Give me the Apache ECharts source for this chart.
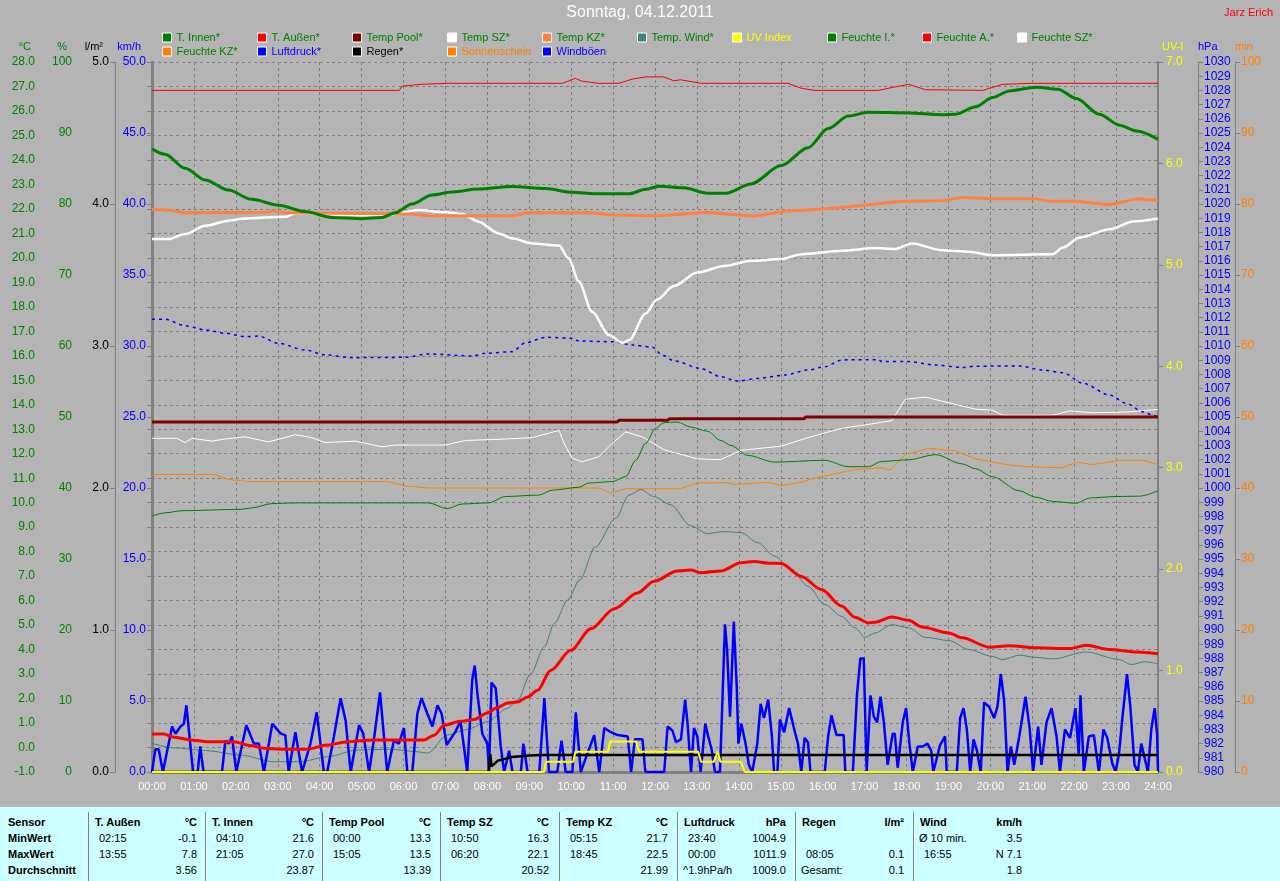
<!DOCTYPE html>
<html><head><meta charset="utf-8">
<script src="https://cdn.jsdelivr.net/npm/echarts/dist/echarts.min.js"></script>
<style>
html,body{margin:0;padding:0;background:#b4b4b4;overflow:hidden;}
#chart{position:absolute;left:0;top:0;width:1280px;height:881px;}
#table{position:absolute;left:0;top:807px;width:1280px;height:74px;background:#ccffff;font-family:'Liberation Sans',Arial,sans-serif;font-size:11px;color:#000;}
.t{position:absolute;white-space:nowrap;line-height:14px;}
.b{font-weight:bold;}
.sep{position:absolute;top:5px;bottom:0;width:1px;background:#808080;border-right:1px solid #e8ffff;}
</style></head>
<body>
<div id="chart"></div>
<div id="table"></div>
<script>
// ---------- data ----------
const hourLabels = ['00:00','01:00','02:00','03:00','04:00','05:00','06:00','07:00','08:00','09:00','10:00','11:00','12:00','13:00','14:00','15:00','16:00','17:00','18:00','19:00','20:00','21:00','22:00','23:00','24:00'];
const axisNames = ['°C','%','l/m²','km/h','UV-I','hPa','min'];

const tInnen = [[0,24.45],[0.31,24.23],[0.79,23.66],[1.27,23.18],[1.82,22.77],[2.38,22.39],[3.02,22.15],[3.65,21.89],[4.29,21.65],[5.01,21.6],[5.49,21.65],[5.8,21.84],[6.2,22.2],[6.68,22.57],[7.16,22.69],[7.79,22.81],[8.59,22.91],[9.39,22.83],[10.02,22.68],[10.58,22.62],[11.38,22.62],[11.78,22.8],[12.1,22.93],[12.69,22.86],[13.25,22.64],[13.69,22.64],[14.29,23.02],[15.01,23.77],[15.65,24.5],[16.13,25.28],[16.61,25.79],[17.09,25.95],[18.05,25.92],[18.85,25.85],[19.17,25.87],[19.65,26.17],[20.05,26.55],[20.45,26.82],[21.1,26.97],[21.61,26.89],[22.05,26.51],[22.6,25.87],[23.08,25.42],[23.49,25.18],[24,24.84]];

const tAussen = [[0,0.55],[0.28,0.55],[0.52,0.42],[0.92,0.31],[1.31,0.24],[1.95,0.24],[2.35,0.08],[2.67,-0.03],[3.07,-0.07],[3.7,-0.07],[4.18,0.1],[4.66,0.24],[5.29,0.31],[6.49,0.31],[6.73,0.5],[6.97,0.91],[7.36,1.07],[7.68,1.14],[8.0,1.41],[8.24,1.63],[8.48,1.82],[8.72,1.86],[8.96,2.06],[9.2,2.34],[9.51,3.15],[9.99,3.97],[10.47,4.85],[11.03,5.67],[11.58,6.31],[11.98,6.79],[12.53,7.21],[12.85,7.25],[13.09,7.14],[13.57,7.21],[14.05,7.55],[14.37,7.6],[14.69,7.53],[15.01,7.52],[15.49,6.99],[15.97,6.45],[16.45,5.78],[16.77,5.32],[17.09,5.09],[17.25,5.12],[17.65,5.33],[18.05,5.2],[18.37,4.92],[19.01,4.68],[19.33,4.48],[19.97,4.1],[20.45,4.16],[21.09,4.07],[21.89,4.04],[22.29,4.18],[22.85,4.0],[23.49,3.9],[24,3.83]];

const tempWind = [[0,0.17],[0.52,-0.01],[1.31,-0.13],[2.11,-0.31],[2.9,-0.58],[3.54,-0.58],[4.18,-0.38],[4.9,-0.1],[5.69,-0.07],[6.33,-0.17],[6.57,-0.23],[7.05,0.51],[7.52,0.74],[8.0,1.06],[8.48,1.6],[8.72,1.94],[9.04,3.03],[9.36,4.12],[9.6,5.07],[9.92,6.03],[10.2,6.84],[10.58,8.2],[11.06,9.36],[11.38,10.31],[11.66,10.54],[11.97,10.25],[12.37,9.92],[12.85,9.06],[13.25,8.74],[13.65,8.82],[14.05,8.78],[14.45,8.37],[14.85,7.82],[15.25,7.28],[15.65,6.59],[16.05,5.84],[16.45,5.36],[16.77,4.89],[17.01,4.5],[17.25,4.68],[17.65,5.02],[18.05,4.89],[18.45,4.5],[19.01,4.37],[19.49,4.0],[20.05,3.72],[20.29,3.59],[20.69,3.77],[21.09,3.68],[21.49,3.62],[22.29,3.9],[23.08,3.59],[23.36,3.39],[23.68,3.5],[24,3.42]];

const tempPool = [[0,13.3],[11.1,13.3],[11.15,13.37],[12.3,13.37],[12.35,13.43],[15.55,13.43],[15.6,13.5],[24,13.5]];

const tempSZ = [[0,20.77],[0.39,20.77],[0.79,20.97],[1.27,21.31],[1.82,21.52],[2.22,21.61],[3.18,21.68],[3.42,21.82],[3.97,21.82],[4.61,21.75],[5.41,21.75],[5.8,21.79],[6.36,21.95],[7.0,21.86],[7.4,21.79],[7.79,21.48],[8.27,21.0],[8.59,20.8],[9.07,20.59],[9.71,20.5],[9.94,19.98],[10.18,19.03],[10.5,17.8],[10.9,16.85],[11.22,16.53],[11.38,16.64],[11.78,17.73],[12.05,18.3],[12.45,18.85],[13.01,19.4],[13.65,19.67],[14.29,19.88],[15.01,19.95],[15.49,20.15],[16.45,20.29],[17.25,20.4],[17.73,20.36],[18.13,20.59],[18.85,20.31],[19.49,20.25],[20.05,20.11],[21.49,20.15],[21.73,20.42],[22.13,20.83],[22.85,21.17],[23.41,21.49],[24,21.61]];

const tempKZ = [[0,21.99],[0.47,21.93],[0.79,21.84],[2.8,21.86],[2.86,21.93],[3.18,21.84],[6.2,21.79],[6.6,21.72],[8.67,21.72],[8.91,21.84],[10.5,21.84],[10.98,21.75],[12.0,21.72],[12.29,21.74],[13.25,21.86],[13.73,21.79],[14.37,21.7],[15.09,21.9],[16.05,22.0],[17.09,22.17],[17.89,22.31],[18.85,22.33],[19.33,22.47],[20.05,22.41],[21.09,22.41],[21.41,22.31],[22.05,22.31],[22.85,22.17],[23.49,22.41],[24,22.34]];

const feuchteA = [[0,96.0],[5.9,96.0],[5.96,96.6],[6.44,96.86],[7.08,97.0],[9.79,97.0],[10.1,97.7],[10.26,97.3],[10.66,97.0],[11.14,97.0],[11.46,97.6],[11.78,97.9],[12.21,97.9],[12.45,97.35],[12.61,97.5],[13.09,97.0],[15.17,97.0],[15.49,96.3],[15.81,96.0],[17.33,96.0],[17.73,96.5],[18.05,96.85],[18.45,96.1],[19.81,96.0],[20.29,96.85],[21.01,97.0],[24,97.0]];

const feuchteSZ = [[0,47.0],[0.59,47.0],[0.79,46.4],[0.95,47.0],[1.43,46.6],[1.74,46.9],[2.22,47.2],[2.78,46.5],[3.42,47.5],[3.81,47.1],[4.13,46.4],[4.85,46.6],[5.49,45.8],[5.8,46.05],[7.0,46.05],[7.48,46.7],[8.27,46.85],[9.07,47.1],[9.71,48.1],[9.83,46.3],[10.02,44.2],[10.26,43.7],[10.66,44.4],[10.98,46.3],[11.3,47.9],[11.7,47.2],[12.21,45.4],[13.01,44.1],[13.57,44.0],[14.05,45.3],[15.01,45.9],[15.65,47.1],[16.45,48.4],[17.25,49.1],[17.65,49.5],[17.97,52.5],[18.45,52.8],[19.01,52.0],[19.65,51.1],[20.05,50.96],[20.29,50.25],[21.49,50.25],[21.89,50.86],[22.45,50.6],[23.25,50.7],[24,51.06]];

const feuchteKZ = [[0,41.9],[1.5,41.9],[1.82,41.2],[2.38,40.9],[5.64,40.9],[6.04,40.3],[6.6,40.0],[10.66,40.0],[10.94,39.3],[11.3,39.9],[12.6,39.9],[13.01,40.7],[13.73,40.75],[13.89,40.5],[14.69,40.8],[15.01,40.35],[15.49,40.8],[15.81,41.4],[16.77,42.6],[17.41,42.85],[17.61,42.5],[17.97,44.7],[18.53,45.6],[19.17,45.2],[19.65,44.1],[20.37,43.3],[20.85,43.0],[21.73,42.85],[22.05,43.65],[22.45,43.3],[23.08,43.9],[23.64,43.9],[24,43.3]];

const feuchteI = [[0,36.05],[0.31,36.5],[0.71,36.8],[2.14,37.0],[2.38,37.2],[2.86,37.8],[3.42,37.9],[6.6,37.9],[7.04,37.1],[7.4,37.75],[8.03,37.9],[8.43,38.8],[9.23,39.0],[9.55,39.7],[10.18,40.1],[10.42,40.7],[10.98,40.9],[11.3,41.6],[11.54,43.9],[11.78,46.3],[12.01,48.4],[12.21,49.2],[12.53,49.3],[12.85,48.6],[13.25,48.0],[13.57,46.7],[13.81,46.0],[14.21,44.6],[14.85,43.65],[16.05,43.9],[16.61,43.0],[17.09,43.0],[17.41,43.75],[18.05,43.97],[18.69,44.7],[19.33,43.4],[19.65,42.7],[20.05,41.6],[20.69,39.6],[21.09,38.7],[21.49,38.1],[22.05,37.85],[22.37,38.6],[23.0,38.8],[23.56,38.85],[24,39.6]];

const luftdruck = [[0,1011.88],[0.31,1011.88],[0.79,1011.43],[1.27,1011.13],[1.74,1010.9],[2.22,1010.66],[2.54,1010.7],[3.02,1010.19],[3.65,1009.72],[4.13,1009.37],[4.77,1009.18],[6.04,1009.2],[6.6,1009.44],[7.64,1009.3],[7.95,1009.49],[8.59,1009.6],[8.91,1010.23],[9.39,1010.61],[10.02,1010.55],[10.18,1010.35],[10.98,1010.3],[11.46,1010.07],[11.94,1009.92],[12.17,1009.37],[12.45,1008.96],[13.09,1008.42],[13.57,1007.84],[13.97,1007.53],[14.45,1007.72],[15.09,1007.95],[15.65,1008.31],[16.05,1008.54],[16.45,1009.0],[16.6,1009.04],[17.33,1009.04],[17.41,1008.9],[18.05,1008.9],[18.69,1008.66],[19.33,1008.49],[19.65,1008.58],[20.69,1008.59],[21.25,1008.31],[21.73,1008.12],[22.21,1007.37],[22.85,1006.54],[23.25,1005.95],[23.64,1005.36],[23.88,1005.13],[24,1005.0]];

const regen = [[0,0],[8.03,0],[8.07,0.125],[8.1,0.04],[8.25,0.08],[8.6,0.106],[9.0,0.117],[9.3,0.12],[24,0.12]];

const uvIndex = [[0,0],[9.35,0],[9.4,0.1],[10.05,0.1],[10.1,0.2],[10.88,0.2],[10.93,0.3],[11.55,0.3],[11.62,0.2],[13.03,0.2],[13.1,0.1],[13.4,0.1],[13.5,0.2],[13.56,0.1],[14.05,0.1],[14.14,0],[24,0]];

const sonnenschein = [];

const windboeen = [[0,0],[0.08,1.6],[0.16,1.6],[0.26,0],[0.48,3.2],[0.56,2.7],[0.68,3.2],[0.76,3.4],[0.82,4.7],[0.98,0],[1.09,0],[1.15,1.8],[1.23,0],[1.67,0],[1.75,2.2],[1.83,2.0],[1.91,2.5],[2.01,0],[2.25,3.3],[2.43,2.0],[2.55,2.0],[2.67,0],[2.87,3.4],[3.07,2.7],[3.18,2.6],[3.26,0],[3.42,2.8],[3.58,0],[3.78,2.0],[3.93,4.2],[4.10,0],[4.18,0],[4.34,2.5],[4.50,5.2],[4.62,3.6],[4.74,0],[4.94,3.3],[5.04,2.7],[5.18,0],[5.29,2.2],[5.44,5.6],[5.61,0],[5.77,2.2],[5.89,2.0],[6.01,3.1],[6.09,0],[6.21,0],[6.33,4.1],[6.43,5.2],[6.57,4.1],[6.69,3.2],[6.81,4.7],[6.91,4.1],[7.03,1.9],[7.25,2.9],[7.36,3.6],[7.44,1.8],[7.52,0],[7.64,6.5],[7.70,7.5],[7.76,5.6],[7.88,2.7],[8.00,2.0],[8.04,0],[8.10,6.3],[8.20,5.9],[8.32,1.8],[8.40,0],[8.52,1.5],[8.60,0],[8.80,0],[8.86,2.0],[8.96,0],[9.24,0],[9.36,5.2],[9.47,0],[9.67,0],[9.77,2.2],[9.87,0],[10.03,0],[10.11,4.2],[10.23,0],[10.35,1.0],[10.55,2.6],[10.67,0],[10.79,3.1],[10.95,2.8],[11.11,2.6],[11.35,2.5],[11.43,0],[11.52,2.3],[11.70,2.3],[11.77,0],
[12.22,0],[12.30,3.2],[12.42,2.9],[12.50,2.1],[12.62,2.3],[12.66,2.3],[12.72,5.1],[12.78,3.3],[12.86,0],[12.93,3.1],[13.01,2.5],[13.09,0],[13.20,3.4],[13.27,2.5],[13.35,1.6],[13.43,0],[13.55,0],[13.67,10.4],[13.72,8.6],[13.79,3.9],[13.88,10.6],[13.95,6.0],[13.99,2.0],[14.06,3.4],[14.16,2.0],[14.24,0.5],[14.32,0],[14.44,2.0],[14.52,4.8],[14.60,3.8],[14.70,5.1],[14.79,2.5],[14.84,0],[14.92,0],[14.98,3.7],[15.08,2.8],[15.20,4.5],[15.33,2.9],[15.41,2.0],[15.49,0],[15.57,2.4],[15.65,2.1],[15.71,0],[16.05,0],[16.13,2.5],[16.21,4.0],[16.33,2.6],[16.50,2.6],[16.54,0],[16.72,0],[16.82,5.5],[16.90,8.0],[16.98,8.0],[17.05,0],[17.14,5.4],[17.22,3.9],[17.30,3.5],[17.38,5.3],[17.46,3.5],[17.55,0.5],[17.67,2.7],[17.72,2.7],[17.79,0.3],[17.91,3.5],[17.99,4.5],[18.07,2.0],[18.15,0],[18.27,1.8],[18.39,1.8],[18.50,2.0],[18.59,1.5],[18.64,0],[18.80,1.9],[18.92,2.5],[18.96,0],[19.20,0],[19.28,3.8],[19.36,4.5],[19.44,3.0],[19.52,0],[19.60,2.3],[19.68,1.5],[19.77,0],[19.85,4.9],[19.97,4.6],[20.09,3.8],[20.17,4.6],[20.25,6.9],[20.33,5.0],[20.41,0],[20.49,1.8],[20.57,0.5],[20.69,2.5],[20.84,5.3],[20.94,3.0],[21.02,0],[21.14,3.2],[21.22,0.5],[21.34,3.5],[21.46,4.5],[21.58,2.5],[21.66,0],[21.78,3.0],[21.90,2.4],[22.03,4.5],[22.11,1.2],[22.15,5.4],[22.23,0],[22.35,2.5],[22.47,2.6],[22.59,0],[22.70,3.0],[22.79,2.4],[22.91,0.6],[22.99,0],[23.07,1.3],[23.15,3.8],[23.26,6.9],[23.34,4.6],[23.44,0.5],[23.52,0],[23.60,2.0],[23.68,1.0],[23.76,0],[23.84,3.0],[23.92,4.5],[23.98,2.6],[24.0,0]];

// legend columns (names)
const legendCols = [['T. Innen*','Feuchte KZ*'],['T. Außen*','Luftdruck*'],['Temp Pool*','Regen*'],['Temp SZ*','Sonnenschein'],['Temp KZ*','Windböen'],['Temp. Wind*'],['UV Index'],['Feuchte I.*'],['Feuchte A.*'],['Feuchte SZ*']];

// statistics table text
const tableRowLabels = ['Sensor','MinWert','MaxWert','Durchschnitt'];
const tableCols = [
  ['T. Außen','°C','02:15','-0.1','13:55','7.8','','3.56'],
  ['T. Innen','°C','04:10','21.6','21:05','27.0','','23.87'],
  ['Temp Pool','°C','00:00','13.3','15:05','13.5','','13.39'],
  ['Temp SZ','°C','10:50','16.3','06:20','22.1','','20.52'],
  ['Temp KZ','°C','05:15','21.7','18:45','22.5','','21.99'],
  ['Luftdruck','hPa','23:40','1004.9','00:00','1011.9','^1.9hPa/h','1009.0'],
  ['Regen','l/m²','','','08:05','0.1','Gesamt:','0.1'],
  ['Wind','km/h','Ø 10 min.','3.5','16:55','N 7.1','','1.8']
];

// ---------- layout / styles ----------
const legendLeft = [162,257,352,447,542,637,732,827,922,1017];
const colX = [88,205,322,440,559,677,795,913];
const rowTop = [8,24,40,56];
const GREEN='#008000', BLUE='#0000ff', ORANGE='#ff8000', YELLOW='#ffff00';
const legendTextColor = {'Luftdruck*':BLUE,'Regen*':'#000000','Sonnenschein':ORANGE,'Windböen':BLUE,'UV Index':YELLOW};
const axisNameStyle = [
  {x:31, align:'right', color:GREEN},
  {x:67, align:'right', color:GREEN},
  {x:103, align:'right', color:'#000000'},
  {x:141, align:'right', color:BLUE},
  {x:1162, align:'left', color:YELLOW},
  {x:1198, align:'left', color:BLUE},
  {x:1235, align:'left', color:ORANGE}
];

// ---------- table ----------
const tbl = document.getElementById('table');
function addText(txt, left, top, cls, right){
  const d=document.createElement('div'); d.className='t '+(cls||''); d.textContent=txt;
  d.style.top=top+'px';
  if(right) d.style.right=(1280-left)+'px'; else d.style.left=left+'px';
  tbl.appendChild(d);
}
tableRowLabels.forEach((l,i)=>addText(l,8,rowTop[i],'b'));
tableCols.forEach((c,j)=>{
  const x=colX[j];
  const s=document.createElement('div'); s.className='sep'; s.style.left=x+'px'; tbl.appendChild(s);
  addText(c[0],x+7,rowTop[0],'b');
  addText(c[1],x+109,rowTop[0],'b',true);
  for(let r=0;r<3;r++){
    const lab=c[2+r*2], val=c[3+r*2];
    if(lab) addText(lab, x+(/^\d/.test(lab)?11:6), rowTop[r+1]);
    if(val) addText(val, x+109, rowTop[r+1], '', true);
  }
});

// ---------- chart ----------
const chart = echarts.init(document.getElementById('chart'), null, {renderer:'canvas'});

function yAx(o){
  return Object.assign({
    type:'value',
    axisLine:{show:true, lineStyle:{color:'#808080', width:1}},
    axisTick:{show:true, length:5, lineStyle:{color:'#808080'}},
    splitLine:{show:false}
  }, o);
}
const fmt1 = v=>v.toFixed(1), fmt0 = v=>String(Math.round(v));

function ser(name, data, yIdx, color, width, extra){
  return Object.assign({
    name, type:'line', data, yAxisIndex:yIdx, showSymbol:false, symbol:'none',
    color, itemStyle:{color}, lineStyle:{color, width}, animation:false, z:2
  }, extra||{});
}
const sm = {smooth:0.3, smoothMonotone:'x'};

const legends = legendCols.map((names,i)=>({
  orient:'vertical', left:legendLeft[i], top:31, padding:0, itemGap:1,
  itemWidth:9, itemHeight:9, icon:'rect', selectedMode:false,
  itemStyle:{borderColor:'#ffffff', borderWidth:1},
  textStyle:{fontSize:11, lineHeight:13, color:GREEN, fontFamily:'Liberation Sans'},
  data:names.map(n=>({name:n, textStyle:{color:legendTextColor[n]||GREEN}}))
}));

const axisNameGraphics = axisNames.map((n,i)=>({
  type:'text', x:axisNameStyle[i].x, y:47, silent:true,
  style:{text:n, fill:axisNameStyle[i].color, font:'11px "Liberation Sans"',
         align:axisNameStyle[i].align, textAlign:axisNameStyle[i].align,
         verticalAlign:'middle', textVerticalAlign:'middle'}
}));

const option = {
  backgroundColor:'#b4b4b4',
  animation:false,
  textStyle:{fontFamily:'Liberation Sans', fontSize:11},
  title:[
    {text:'Sonntag, 04.12.2011', left:'center', top:5, padding:0, textStyle:{color:'#ffffff', fontSize:16, fontWeight:'normal'}},
    {text:'Jarz Erich', right:7, top:7, padding:0, textStyle:{color:'#ff0000', fontSize:11, fontWeight:'normal'}}
  ],
  legend: legends,
  graphic: axisNameGraphics,
  grid:{left:152, top:62, width:1006, height:710, containLabel:false},
  xAxis:[
    {type:'value', min:0, max:24, interval:1, position:'bottom',
     axisLine:{show:false}, axisTick:{show:false},
     axisLabel:{color:'#ffffff', fontSize:11, margin:9, formatter:v=>hourLabels[v]},
     splitLine:{show:true, lineStyle:{color:'#808080', type:[3,3], width:1}}},
    {type:'value', min:0, max:24, interval:1, position:'top',
     axisLine:{show:true, lineStyle:{color:'#808080', width:3}}, axisTick:{show:false},
     axisLabel:{show:false}, splitLine:{show:false}}
  ],
  yAxis:[
    yAx({position:'left', offset:111, min:-1, max:28, interval:1,
      axisLabel:{color:GREEN, margin:6, formatter:fmt1},
      splitLine:{show:true, lineStyle:{color:'#808080', type:[3,3], width:1}}}),
    yAx({position:'left', offset:74, min:0, max:100, interval:10,
      axisLabel:{color:GREEN, margin:6, formatter:fmt0}}),
    yAx({position:'left', offset:37, min:0, max:5, interval:1,
      axisLabel:{color:'#000000', margin:6, formatter:fmt1}}),
    yAx({position:'left', offset:0, min:0, max:50, interval:5,
      axisLine:{show:true, lineStyle:{color:'#808080', width:3}},
      axisLabel:{color:BLUE, margin:6, formatter:fmt1}}),
    yAx({position:'right', offset:0, min:0, max:7, interval:1,
      axisLine:{show:true, lineStyle:{color:'#808080', width:2}},
      axisLabel:{color:YELLOW, margin:8, formatter:fmt1}}),
    yAx({position:'right', offset:40, min:980, max:1030, interval:1,
      axisLabel:{color:BLUE, margin:6, formatter:fmt0}}),
    yAx({position:'right', offset:77, min:0, max:100, interval:10,
      axisLabel:{color:ORANGE, margin:6, formatter:fmt0}})
  ],
  series:[
    ser('Feuchte A.*', feuchteA, 1, '#ff0000', 1),
    ser('Feuchte SZ*', feuchteSZ, 1, '#ffffff', 1),
    ser('Feuchte KZ*', feuchteKZ, 1, '#ff8000', 1),
    ser('Feuchte I.*', feuchteI, 1, '#008000', 1, sm),
    ser('Luftdruck*', luftdruck, 5, '#0000ff', 1.5, Object.assign({lineStyle:{color:'#0000ff', width:1.5, type:[3,4]}}, sm)),
    ser('Temp. Wind*', tempWind, 0, '#408080', 1, sm),
    ser('Temp SZ*', tempSZ, 0, '#ffffff', 2.5, sm),
    ser('Temp KZ*', tempKZ, 0, '#ff8040', 3),
    ser('T. Innen*', tInnen, 0, '#008000', 3, sm),
    ser('Temp Pool*', tempPool, 0, '#800000', 3),
    ser('Windböen', windboeen, 3, '#0000ff', 2.5),
    ser('T. Außen*', tAussen, 0, '#ff0000', 3, sm),
    ser('Regen*', regen, 2, '#000000', 2.5),
    ser('Sonnenschein', sonnenschein, 6, '#ff8000', 2),
    ser('UV Index', uvIndex, 4, '#ffff00', 2)
  ]
};
chart.setOption(option);
</script>
</body></html>
